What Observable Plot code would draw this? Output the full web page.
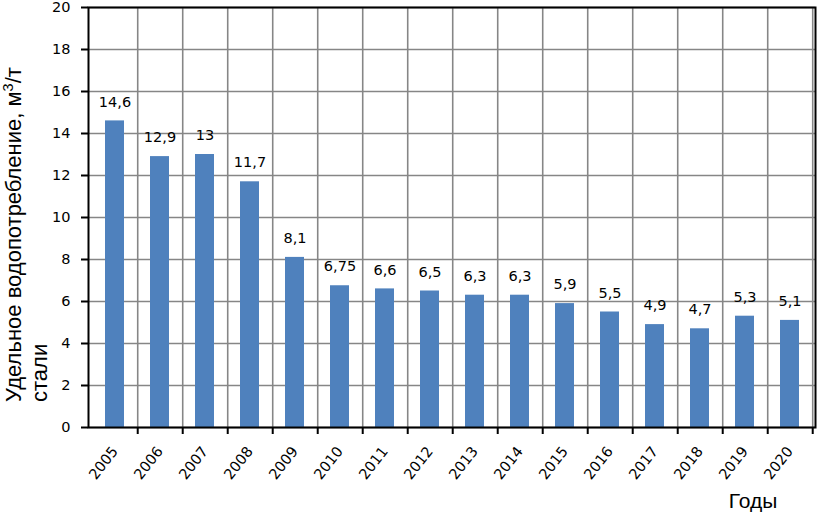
<!DOCTYPE html>
<html>
<head>
<meta charset="utf-8">
<script src="https://cdn.jsdelivr.net/npm/d3@7"></script>
<script src="https://cdn.jsdelivr.net/npm/@observablehq/plot@0.6"></script>
<style>
  html, body { margin: 0; padding: 0; background: #fff; }
</style>
</head>
<body>
<div id="chart"></div>
<script>
const years = ["2005","2006","2007","2008","2009","2010","2011","2012","2013","2014","2015","2016","2017","2018","2019","2020"];
const values = [14.6, 12.9, 13, 11.7, 8.1, 6.75, 6.6, 6.5, 6.3, 6.3, 5.9, 5.5, 4.9, 4.7, 5.3, 5.1];
const yTicks = [0, 2, 4, 6, 8, 10, 12, 14, 16, 18, 20];
const yTitle = "Удельное водопотребление, м";
const yTitleSup = "3";
const yTitleEnd = "/т";
const yTitle2 = "стали";
const xTitle = "Годы";

const data = years.map((year, i) => ({
  year,
  value: values[i],
  label: String(values[i]).replace(".", ",")
}));

const W = 818, H = 514, ML = 88, MR = 3, MT = 7, MB = 87;
const step = (W - ML - MR) / years.length;
const gridColor = "#868686";

const chart = Plot.plot({
  width: W,
  height: H,
  marginLeft: ML,
  marginRight: MR,
  marginTop: MT,
  marginBottom: MB,
  style: { fontFamily: "DejaVu Sans", fontSize: "14.5px", color: "black", background: "white" },
  x: { domain: years, paddingInner: 0.58, paddingOuter: 0.29, axis: null },
  y: { domain: [0, 20], axis: null },
  marks: [
    Plot.gridY(yTicks, { stroke: gridColor, strokeOpacity: 1, strokeWidth: 1.4 }),
    Plot.gridX(years, { dx: step / 2, stroke: gridColor, strokeOpacity: 1, strokeWidth: 1.6 }),
    Plot.barY(data, { x: "year", y: "value", fill: "#4F81BD" }),
    Plot.text(data, { x: "year", y: "value", text: "label", dy: -19, fontSize: 14.5, fill: "black" }),
    Plot.axisY(yTicks, { tickSize: 7, tickPadding: 11, strokeWidth: 2, stroke: "black", fontSize: 14.5, label: null }),
    Plot.axisX(years, { tickSize: 7, dx: step / 2, text: null, strokeWidth: 2, stroke: "black", label: null }),
    Plot.axisX(years, { tickSize: 0, tickPadding: 21, tickRotate: -52, fontSize: 14.5, stroke: "black", strokeWidth: 0.35, label: null }),
    Plot.frame({ stroke: "black", strokeWidth: 2 })
  ]
});

document.getElementById("chart").appendChild(chart);

const svg = d3.select(chart);
const t1 = svg.append("text")
  .attr("transform", "translate(21,402) rotate(-90)")
  .attr("font-family", "Liberation Sans, Arial, sans-serif")
  .attr("font-size", 22)
  .attr("fill", "black")
  .attr("text-anchor", "start");
t1.append("tspan").text(yTitle);
t1.append("tspan").attr("dy", -8).attr("font-size", 14.5).text(yTitleSup);
t1.append("tspan").attr("dy", 8).text(yTitleEnd);

svg.append("text")
  .attr("transform", "translate(47,402) rotate(-90)")
  .attr("font-family", "Liberation Sans, Arial, sans-serif")
  .attr("font-size", 22)
  .attr("fill", "black")
  .attr("text-anchor", "start")
  .text(yTitle2);

svg.append("text")
  .attr("x", 753)
  .attr("y", 508)
  .attr("font-family", "Liberation Sans, Arial, sans-serif")
  .attr("font-size", 21)
  .attr("fill", "black")
  .attr("text-anchor", "middle")
  .text(xTitle);
</script>
</body>
</html>
